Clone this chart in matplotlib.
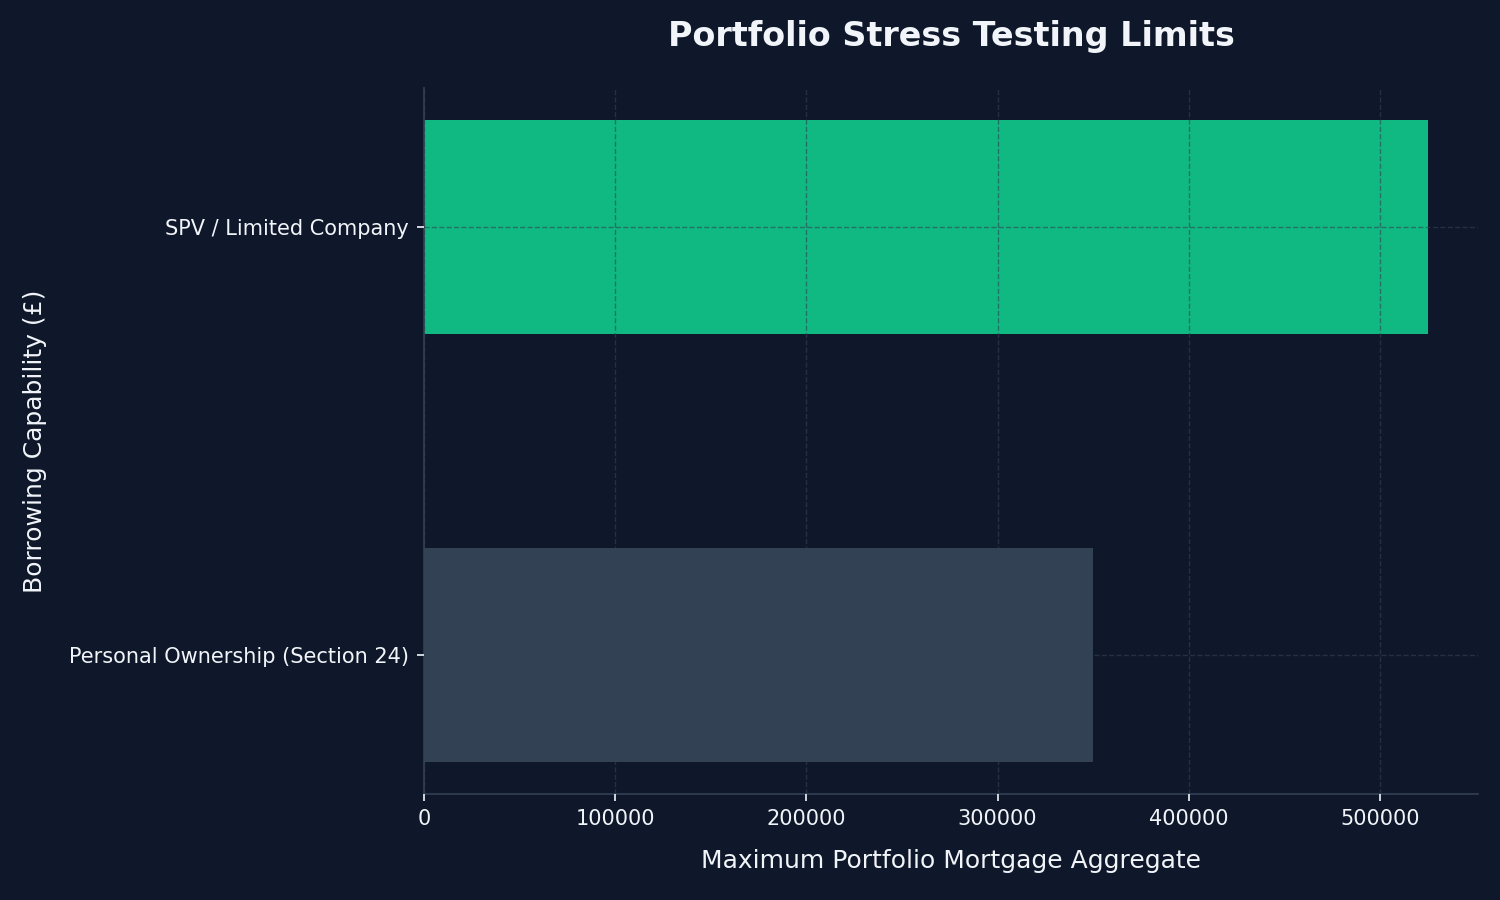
import matplotlib
matplotlib.use("Agg")
import matplotlib.pyplot as plt

categories = ["Personal Ownership (Section 24)", "SPV / Limited Company"]
values = [350000, 525000]
bar_colors = ["#334155", "#10b981"]

BG = "#0f172a"
TXT = "#f1f5f9"
GRID = "#334155"

fig = plt.figure(figsize=(15, 9), dpi=100, facecolor=BG)
ax = fig.add_axes([0.2827, 0.1178, 0.7026, 0.7844])
ax.set_facecolor(BG)

ax.barh(categories, values, color=bar_colors, height=0.5)

ax.set_axisbelow(False)
ax.grid(True, color=GRID, linestyle="--", linewidth=1, alpha=0.6)

for s in ["top", "right"]:
    ax.spines[s].set_visible(False)
for s in ["left", "bottom"]:
    ax.spines[s].set_color(GRID)
    ax.spines[s].set_linewidth(1.2)

ax.tick_params(colors=TXT, labelsize=15, length=5, width=1.2, pad=6)
ax.ticklabel_format(axis="x", style="plain", useOffset=False)

ax.set_title("Portfolio Stress Testing Limits", color=TXT, fontsize=24,
             fontweight="bold", pad=30)
ax.set_xlabel("Maximum Portfolio Mortgage Aggregate", color=TXT, fontsize=18, labelpad=14)
ax.set_ylabel("Borrowing Capability (£)", color=TXT, fontsize=18, labelpad=16)

fig.savefig("out.png", dpi=100, facecolor=BG)
